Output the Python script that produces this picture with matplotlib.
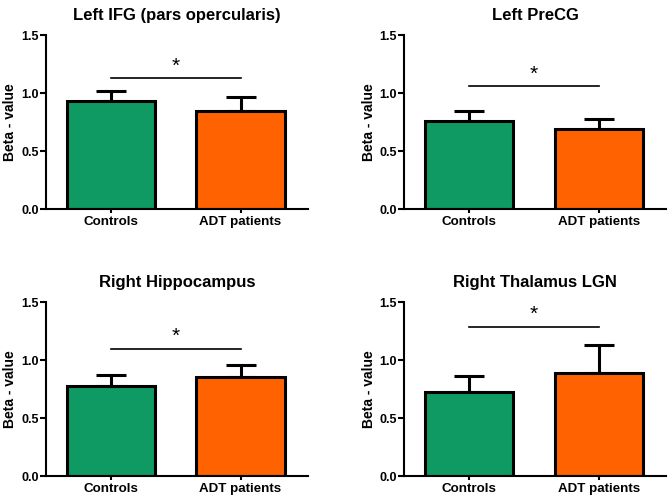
import matplotlib.pyplot as plt
import numpy as np

plt.rcParams['font.family'] = ['Liberation Sans', 'DejaVu Sans']
plt.rcParams['font.weight'] = 'bold'

titles = ['Left IFG (pars opercularis)', 'Left PreCG', 'Right Hippocampus', 'Right Thalamus LGN']
groups = ['Controls', 'ADT patients']
controls = [0.93, 0.76, 0.78, 0.73]
controls_err = [0.09, 0.09, 0.09, 0.135]
adt = [0.845, 0.695, 0.855, 0.89]
adt_err = [0.12, 0.085, 0.10, 0.245]
sig_y = [1.13, 1.06, 1.095, 1.29]

green = '#0E9A62'
orange = '#FF6200'

fig = plt.figure(figsize=(6.68, 4.98), dpi=100)
lefts = [0.069, 0.605, 0.069, 0.605]
bottoms = [0.580, 0.580, 0.044, 0.044]

for i in range(4):
    ax = fig.add_axes([lefts[i], bottoms[i], 0.392, 0.349])
    x = np.arange(2)
    vals = [controls[i], adt[i]]
    errs = [controls_err[i], adt_err[i]]
    ax.bar(x, vals, width=0.68, color=[green, orange], edgecolor='black', linewidth=2.2, zorder=2)
    ax.errorbar(x, vals, yerr=[[0, 0], errs], fmt='none', ecolor='black',
                elinewidth=2.2, capsize=11, capthick=2.2, zorder=1)
    ax.plot([0, 1], [sig_y[i], sig_y[i]], color='black', linewidth=1.2)
    ax.text(0.5, sig_y[i] + 0.025, '*', ha='center', va='bottom', fontsize=15, fontweight='normal')
    ax.set_xlim(-0.5, 1.52)
    ax.set_ylim(0, 1.5)
    ax.set_yticks([0, 0.5, 1.0, 1.5])
    ax.set_yticklabels(['0.0', '0.5', '1.0', '1.5'])
    ax.set_xticks(x)
    ax.set_xticklabels(groups, fontsize=9.6)
    ax.tick_params(axis='y', labelsize=9, width=1.5, length=4, pad=1)
    ax.tick_params(axis='x', width=1.5, length=3, pad=2)
    for s in ['top', 'right']:
        ax.spines[s].set_visible(False)
    for s in ['left', 'bottom']:
        ax.spines[s].set_linewidth(1.5)
    ax.set_ylabel('Beta - value', fontsize=10, fontweight='bold', labelpad=3)
    ax.set_title(titles[i], fontsize=12, fontweight='bold', pad=11)

fig.savefig('out.png', dpi=100)
